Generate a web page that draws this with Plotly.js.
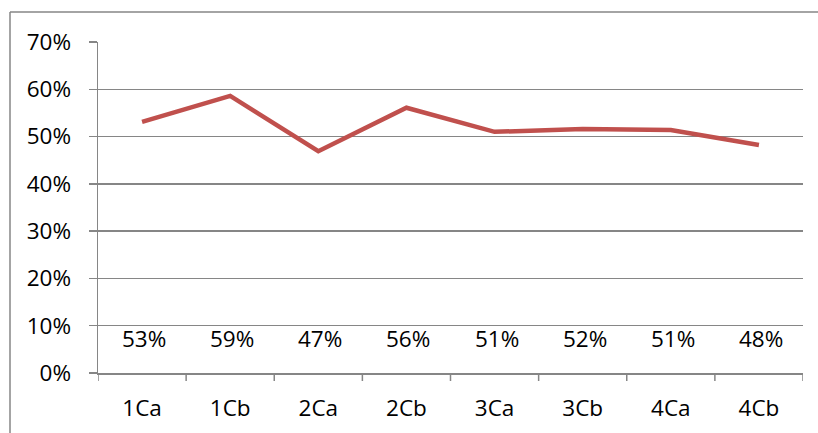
<!DOCTYPE html>
<html>
<head>
<meta charset="utf-8">
<script src="https://cdn.plot.ly/plotly-3.0.1.min.js"></script>
<style>
html,body{margin:0;padding:0;background:#fff;}
#chart{width:818px;height:433px;}
</style>
</head>
<body>
<div id="chart"></div>
<script>
const categories = ["1Ca","1Cb","2Ca","2Cb","3Ca","3Cb","4Ca","4Cb"];
const values = [0.531, 0.586, 0.469, 0.561, 0.510, 0.516, 0.514, 0.482];
const valueLabels = ["53%","59%","47%","56%","51%","52%","51%","48%"];
const yTickVals = [0,0.1,0.2,0.3,0.4,0.5,0.6,0.7];
const yTickText = ["0%","10%","20%","30%","40%","50%","60%","70%"];

const FONT = "'Open Sans', Calibri, sans-serif";
const GRID = "#868686";
const FS = 22.5;

const trace = {
  x: categories.map((c,i)=>i),
  y: values,
  type: "scatter",
  mode: "lines",
  line: {color: "#C0504D", width: 4.5},
  hoverinfo: "skip"
};

const annotations = valueLabels.map((t,i)=>({
  x: i, y: 0.072, xref: "x", yref: "y",
  text: t, showarrow: false, xshift: 2,
  font: {family: FONT, size: FS, color: "#000"}
}));

const bx = (10 - 98) / 705;
const by = (373 - 12) / 331;

const layout = {
  width: 818, height: 433,
  margin: {l: 98, r: 15, t: 42, b: 60},
  paper_bgcolor: "#fff", plot_bgcolor: "#fff",
  showlegend: false,
  font: {family: FONT, size: FS, color: "#000"},
  xaxis: {
    range: [-0.5, 7.5],
    tickmode: "array",
    tickvals: categories.map((c,i)=>i),
    ticktext: categories,
    showgrid: false, zeroline: false,
    showline: true, linecolor: GRID, linewidth: 1.5,
    ticks: "", ticklen: 0,
    ticklabelstandoff: 14,
    tickfont: {family: FONT, size: FS, color: "#000"},
    fixedrange: true
  },
  yaxis: {
    range: [0, 0.7],
    tickmode: "array",
    tickvals: yTickVals,
    ticktext: yTickText,
    showgrid: true, gridcolor: GRID, gridwidth: 1.5,
    zeroline: false,
    showline: true, linecolor: GRID, linewidth: 1.5,
    ticks: "outside", ticklen: 8, tickcolor: GRID, tickwidth: 1.5,
    ticklabelstandoff: 13,
    tickfont: {family: FONT, size: FS, color: "#000"},
    fixedrange: true
  },
  annotations: annotations,
  shapes: [
    ...categories.concat([""]).map((c,i)=>({
      type: "line", xref: "x", yref: "paper",
      x0: i - 0.5, x1: i - 0.5, y0: 0, y1: -8/331,
      line: {color: GRID, width: 1.5}
    })),
    {type: "line", xref: "paper", yref: "paper", x0: bx, x1: bx, y0: -0.3, y1: by,
     line: {color: GRID, width: 1.5}},
    {type: "line", xref: "paper", yref: "paper", x0: bx, x1: 1.2, y0: by, y1: by,
     line: {color: GRID, width: 1.5}}
  ]
};

Plotly.newPlot("chart", [trace], layout, {displayModeBar: false, staticPlot: true});
</script>
</body>
</html>
